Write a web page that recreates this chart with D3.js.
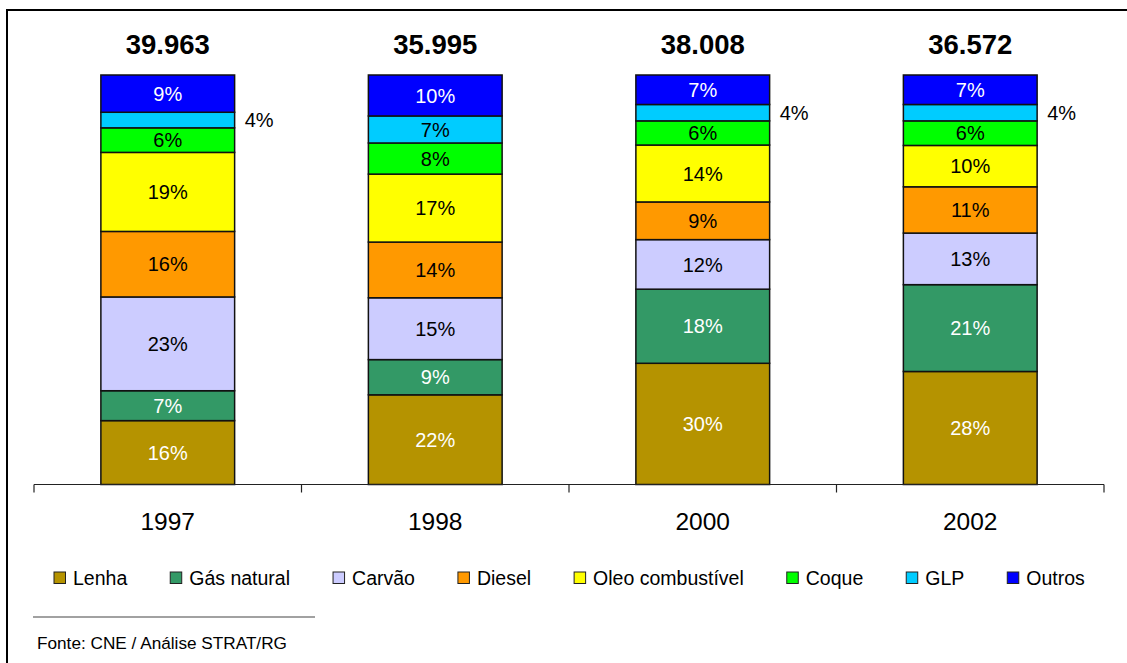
<!DOCTYPE html>
<html>
<head>
<meta charset="utf-8">
<script src="https://cdn.jsdelivr.net/npm/d3@7"></script>
<style>
  html, body { margin: 0; padding: 0; background: #fff; }
  svg { display: block; font-family: "Liberation Sans", Arial, sans-serif; }
</style>
</head>
<body>
<svg id="chart" width="1127" height="663"></svg>
<script>
// Years shown on the x axis
const years = ["1997", "1998", "2000", "2002"];
// Total consumption shown above each column
const totals = ["39.963", "35.995", "38.008", "36.572"];
// Fuel categories, bottom to top
const fuels = ["Lenha", "Gás natural", "Carvão", "Diesel", "Oleo combustível", "Coque", "GLP", "Outros"];
// Share of each fuel (%) per year, in the same order as `fuels`
const lenha      = [15.6, 21.9, 29.6, 27.6];
const gasNatural = [7.3, 8.6, 18.1, 21.2];
const carvao     = [22.9, 15.1, 12.1, 12.6];
const diesel     = [16.0, 13.6, 9.2, 11.3];
const oleo       = [19.3, 16.6, 13.9, 10.1];
const coque      = [6.0, 7.6, 5.9, 6.0];
const glp        = [3.8, 6.6, 4.0, 4.0];
const outros     = [9.1, 10.0, 7.2, 7.2];

const seriesValues = [lenha, gasNatural, carvao, diesel, oleo, coque, glp, outros];
const fuelColors = ["#B59300", "#339966", "#CCCCFF", "#FF9900", "#FFFF00", "#00FF00", "#00CCFF", "#0000FF"];
const labelColors = ["#fff", "#fff", "#000", "#000", "#000", "#000", "#000", "#fff"];

const rows = years.map((y, i) => {
  const r = { year: y, total: totals[i] };
  fuels.forEach((f, k) => { r[f] = seriesValues[k][i]; });
  return r;
});

const svg = d3.select("#chart");

// outer frame
svg.append("rect")
  .attr("x", 7).attr("y", 10)
  .attr("width", 1140).attr("height", 680)
  .attr("fill", "none").attr("stroke", "#000").attr("stroke-width", 2);

const x = d3.scaleBand().domain(years).range([34, 1104]).paddingInner(0.5).paddingOuter(0.25);
const y = d3.scaleLinear().domain([0, 100]).range([484.5, 75]);

const stack = d3.stack().keys(fuels);
const layers = stack(rows);

const g = svg.append("g");

layers.forEach((layer, k) => {
  const lg = g.append("g");
  lg.selectAll("rect")
    .data(layer)
    .join("rect")
    .attr("x", d => x(d.data.year))
    .attr("y", d => y(d[1]))
    .attr("width", x.bandwidth())
    .attr("height", d => y(d[0]) - y(d[1]))
    .attr("fill", fuelColors[k])
    .attr("stroke", "#111")
    .attr("stroke-width", 1.5);

  lg.selectAll("text")
    .data(layer)
    .join("text")
    .attr("x", d => {
      const v = d[1] - d[0];
      return v < 5 ? x(d.data.year) + x.bandwidth() + 10 : x(d.data.year) + x.bandwidth() / 2;
    })
    .attr("y", d => (y(d[0]) + y(d[1])) / 2)
    .attr("dy", "0.36em")
    .attr("text-anchor", d => (d[1] - d[0]) < 5 ? "start" : "middle")
    .attr("fill", d => (d[1] - d[0]) < 5 ? "#000" : labelColors[k])
    .style("font-size", "20px")
    .text(d => Math.round(d[1] - d[0]) + "%");
});

// totals above the columns
g.selectAll("text.total")
  .data(rows)
  .join("text")
  .attr("class", "total")
  .attr("x", d => x(d.year) + x.bandwidth() / 2)
  .attr("y", 54)
  .attr("text-anchor", "middle")
  .style("font-size", "27.5px")
  .style("font-weight", "bold")
  .text(d => d.total);

// x axis with ticks on category boundaries
const axisY = y(0);
const bounds = [34].concat(years.map(yr => x(yr) + x.bandwidth() / 2 + x.step() / 2));
svg.append("line")
  .attr("x1", 34).attr("x2", 1104)
  .attr("y1", axisY).attr("y2", axisY)
  .attr("stroke", "#222").attr("stroke-width", 1.2);
svg.selectAll("line.tick")
  .data(bounds)
  .join("line")
  .attr("class", "tick")
  .attr("x1", d => d).attr("x2", d => d)
  .attr("y1", axisY).attr("y2", axisY + 8)
  .attr("stroke", "#222").attr("stroke-width", 1.2);
svg.selectAll("text.year")
  .data(years)
  .join("text")
  .attr("class", "year")
  .attr("x", d => x(d) + x.bandwidth() / 2)
  .attr("y", 530)
  .attr("text-anchor", "middle")
  .style("font-size", "24.5px")
  .text(d => d);

// legend
const legend = svg.append("g");
let lx = 54;
fuels.forEach((f, k) => {
  legend.append("rect")
    .attr("x", lx).attr("y", 572)
    .attr("width", 11.5).attr("height", 11.5)
    .attr("fill", fuelColors[k])
    .attr("stroke", "#222").attr("stroke-width", 1);
  const t = legend.append("text")
    .attr("x", lx + 19).attr("y", 585)
    .style("font-size", "19.5px")
    .text(f);
  lx = lx + 19 + t.node().getComputedTextLength() + 43;
});

// source note
svg.append("line")
  .attr("x1", 33).attr("x2", 315)
  .attr("y1", 617).attr("y2", 617)
  .attr("stroke", "#444").attr("stroke-width", 1.2);
svg.append("text")
  .attr("x", 37).attr("y", 649)
  .style("font-size", "17.2px")
  .text("Fonte: CNE / Análise STRAT/RG");
</script>
</body>
</html>
